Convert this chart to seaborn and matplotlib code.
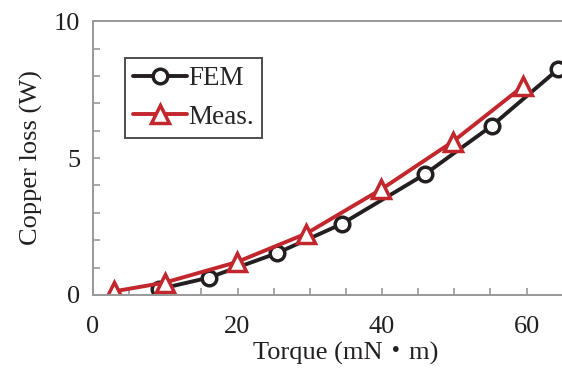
import pandas as pd
import seaborn as sns
import matplotlib.pyplot as plt
from matplotlib.ticker import MultipleLocator

# values
fem_torque = [9.1, 16.0, 25.4, 34.4, 46.0, 55.2, 64.4]
fem_loss = [0.21, 0.63, 1.52, 2.59, 4.42, 6.18, 8.25]
meas_torque = [2.9, 9.9, 19.9, 29.5, 39.9, 49.8, 59.5]
meas_loss = [0.13, 0.45, 1.2, 2.24, 3.86, 5.6, 7.62]

fem = pd.DataFrame({"torque": fem_torque, "loss": fem_loss})
meas = pd.DataFrame({"torque": meas_torque, "loss": meas_loss})

sns.set_style("white")
plt.rcParams['font.family'] = ['Liberation Serif', 'Noto Sans CJK JP']

fig = plt.figure(figsize=(5.62, 3.71), dpi=100)
ax = fig.add_axes([0.1655, 0.205, 0.9, 0.738])

black = "#231f20"
red = "#c1272d"
sns.lineplot(data=fem, x="torque", y="loss", ax=ax, color=black, lw=2.8,
             marker="o", ms=10.5, mfc="white", mec=black, mew=2.5, label="FEM")
sns.lineplot(data=meas, x="torque", y="loss", ax=ax, color=red, lw=2.8,
             marker="^", ms=13, mfc="white", mec=red, mew=2.5, label="Meas.")

ax.set_xlim(0, 70)
ax.set_ylim(0, 10)
ax.xaxis.set_major_locator(MultipleLocator(20))
ax.xaxis.set_minor_locator(MultipleLocator(5))
ax.yaxis.set_major_locator(MultipleLocator(5))
ax.yaxis.set_minor_locator(MultipleLocator(1))
ax.tick_params(which="both", direction="in", length=5, width=1.2,
               color="#999999", labelcolor=black, labelsize=19,
               left=True, bottom=True)
ax.tick_params(axis="x", pad=15)
ax.tick_params(axis="y", pad=9)
for s in ["left", "bottom", "top"]:
    ax.spines[s].set_color("#999999")
    ax.spines[s].set_linewidth(1.4)
ax.spines["right"].set_visible(False)

ax.set_xlabel("Torque (mN・m)", fontsize=19, color=black, labelpad=3)
ax.set_ylabel("Copper loss (W)", fontsize=19, color=black, labelpad=8)

leg = ax.legend(loc="upper left", bbox_to_anchor=(0.063, 0.865), fontsize=19.5,
                frameon=True, fancybox=False, edgecolor=black, handlelength=2.0,
                handletextpad=0.05, borderpad=0.3, labelspacing=0.5,
                borderaxespad=0)
leg.get_frame().set_linewidth(1.4)

fig.savefig("out.png", dpi=100)
